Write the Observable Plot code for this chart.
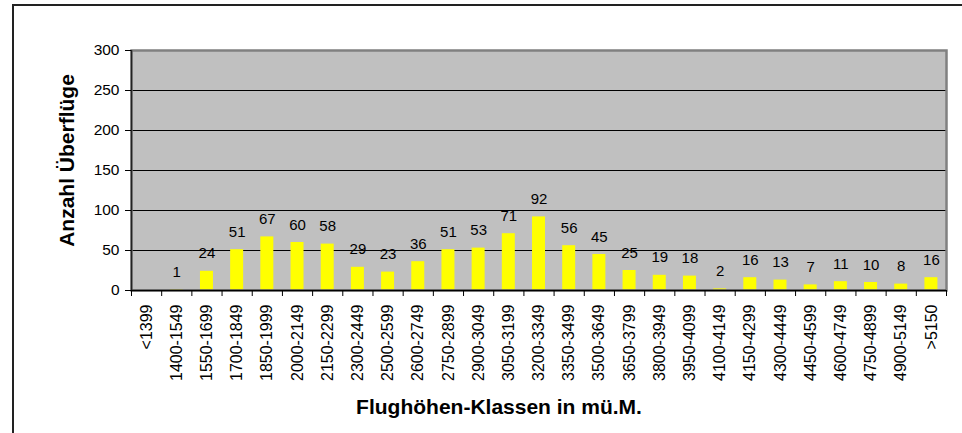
<!DOCTYPE html>
<html>
<head>
<meta charset="utf-8">
<script src="https://cdn.jsdelivr.net/npm/d3@7"></script>
<script src="https://cdn.jsdelivr.net/npm/@observablehq/plot@0.6"></script>
<style>
  html, body { margin: 0; padding: 0; background: #fff; overflow: hidden; }
  #wrap { position: relative; width: 962px; height: 433px; overflow: hidden; }
  #border { position: absolute; left: 12px; top: 4px; width: 2000px; height: 2000px;
            border-left: 2px solid #222; border-top: 2px solid #222; }
  #chart { position: absolute; left: 0; top: 0; }
</style>
</head>
<body>
<div id="wrap"><div id="border"></div><div id="chart"></div></div>
<script>
const categories = ["<1399","1400-1549","1550-1699","1700-1849","1850-1999","2000-2149","2150-2299",
  "2300-2449","2500-2599","2600-2749","2750-2899","2900-3049","3050-3199","3200-3349","3350-3499",
  "3500-3649","3650-3799","3800-3949","3950-4099","4100-4149","4150-4299","4300-4449","4450-4599",
  "4600-4749","4750-4899","4900-5149",">5150"];
const values = [null,1,24,51,67,60,58,29,23,36,51,53,71,92,56,45,25,19,18,2,16,13,7,11,10,8,16];
const yTicks = [0,50,100,150,200,250,300];
const gridValues = [50,100,150,200,250];
const yTitle = "Anzahl Überflüge";
const xTitle = "Flughöhen-Klassen in mü.M.";

const data = categories.map((c, i) => ({i, c, v: values[i]}));
const bars = data.filter(d => d.v != null);
const n = categories.length;

const chart = Plot.plot({
  width: 962,
  height: 433,
  marginLeft: 131,
  marginRight: 16,
  marginTop: 50,
  marginBottom: 143,
  style: {fontFamily: "'Liberation Sans', Arial, sans-serif", fontSize: "15px", color: "#000", background: "transparent"},
  x: {type: "linear", domain: [0, n], axis: null},
  y: {domain: [0, 300], axis: null},
  marks: [
    Plot.frame({fill: "#c0c0c0", stroke: "none"}),
    Plot.ruleY(gridValues, {stroke: "#000", strokeWidth: 1}),
    Plot.rectY(bars, {x1: d => d.i, x2: d => d.i + 1, y: "v", fill: "#ffff00", insetLeft: 8.6, insetRight: 8.6}),
    Plot.frame({stroke: "#808080", strokeWidth: 2.5}),
    Plot.ruleY([0], {stroke: "#000", strokeWidth: 1.5}),
    Plot.ruleX([0], {stroke: "#222", strokeWidth: 1.5}),
    Plot.axisY({ticks: yTicks, tickSize: 6, tickPadding: 6, label: null, fontSize: 15.5}),
    Plot.axisX({ticks: d3.range(n + 1), tickSize: 6, tickFormat: () => "", label: null}),
    Plot.text(data, {x: d => d.i + 0.5, frameAnchor: "bottom", text: "c", rotate: -90,
      textAnchor: "end", lineAnchor: "middle", dy: 14, fontSize: 16}),
    Plot.text(bars, {x: d => d.i + 0.5, y: "v", text: d => String(d.v), lineAnchor: "bottom",
      dy: -13, fontSize: 15}),
    Plot.text([yTitle], {frameAnchor: "left", rotate: -90, textAnchor: "middle", lineAnchor: "bottom",
      dx: -58, dy: -10, fontWeight: "bold", fontSize: 21}),
    Plot.text([xTitle], {frameAnchor: "bottom", lineAnchor: "bottom", dx: -40, dy: 123,
      fontWeight: "bold", fontSize: 21})
  ]
});
document.getElementById("chart").appendChild(chart);
</script>
</body>
</html>
